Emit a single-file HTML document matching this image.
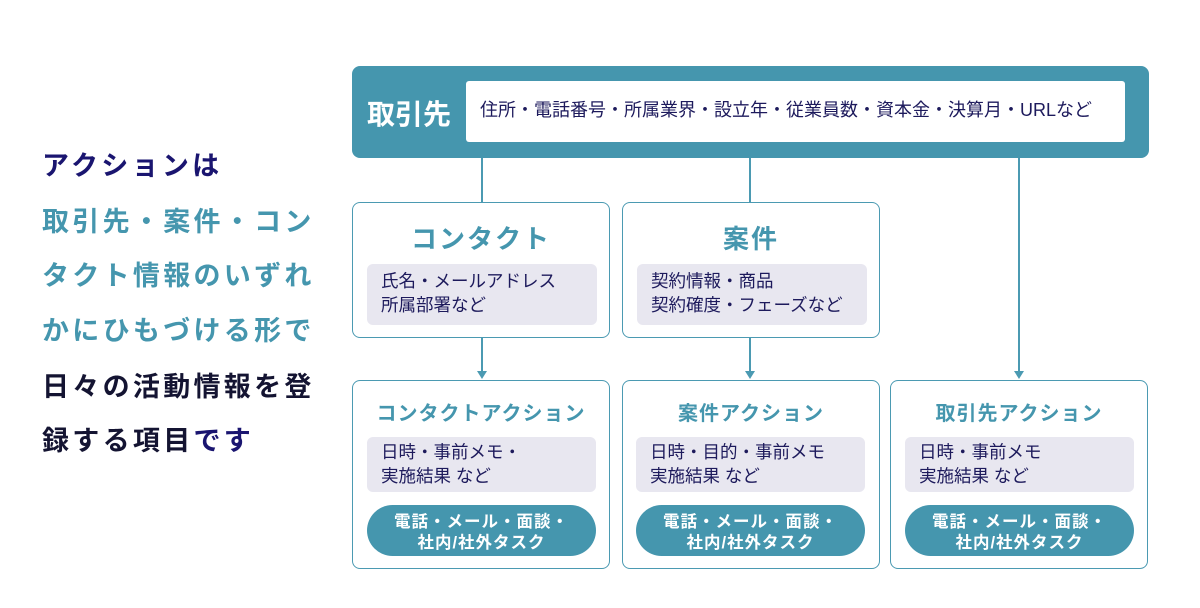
<!DOCTYPE html>
<html><head><meta charset="utf-8"><style>
*{margin:0;padding:0;box-sizing:border-box}
body{width:1200px;height:608px;background:#fff;position:relative;overflow:hidden;font-family:"Liberation Sans","Noto Sans CJK JP",sans-serif}
.a{position:absolute}
.lt{position:absolute;left:42px;font-size:27px;font-weight:bold;letter-spacing:3.3px;line-height:30px;white-space:nowrap}
.teal{color:#4596ae}
.box{position:absolute;border:1.5px solid #4b9ab2;border-radius:8px;background:#fff}
.gray{position:absolute;background:#e8e7f0;border-radius:6px;color:#1d1a5c;font-size:17.5px;line-height:24px;padding:5px 0 0 14px;white-space:nowrap}
.pill{position:absolute;background:#4596ae;border-radius:26px;color:#fff;font-weight:bold;font-size:16.5px;line-height:21px;text-align:center;padding-top:7px;letter-spacing:1px}
.t1{position:absolute;width:100%;text-align:center;color:#4596ae;font-weight:bold;font-size:26px;letter-spacing:2px}
.t2{position:absolute;width:100%;text-align:center;color:#4596ae;font-weight:bold;font-size:20px;letter-spacing:1px}
.ln{position:absolute;width:1.5px;background:#4b9ab2}
.ar{position:absolute;width:0;height:0;border-left:5px solid transparent;border-right:5px solid transparent;border-top:8px solid #4b9ab2}
</style></head><body>
<div class="lt" style="top:151px;color:#1a1570">アクションは</div>
<div class="lt teal" style="top:207px">取引先・案件・コン</div>
<div class="lt teal" style="top:261px">タクト情報のいずれ</div>
<div class="lt teal" style="top:316px">かにひもづける形で</div>
<div class="lt" style="top:372px;color:#141432">日々の活動情報を登</div>
<div class="lt" style="top:426px;color:#141432">録する項目<span style="color:#1a1570">です</span></div>

<div class="a" style="left:352px;top:66px;width:797px;height:92px;background:#4596ae;border-radius:8px"></div>
<div class="a" style="left:367px;top:93px;color:#fff;font-weight:bold;font-size:28px">取引先</div>
<div class="a" style="left:466px;top:81px;width:659px;height:61px;background:#fff;border-radius:3px;color:#1d1a5c;font-size:18px;line-height:58px;padding-left:14px;white-space:nowrap">住所・電話番号・所属業界・設立年・従業員数・資本金・決算月・URLなど</div>

<div class="ln" style="left:481px;top:158px;height:44px"></div>
<div class="ln" style="left:749px;top:158px;height:44px"></div>
<div class="ln" style="left:1018px;top:158px;height:214px"></div>
<div class="ar" style="left:1014px;top:371px"></div>

<div class="box" style="left:352px;top:202px;width:258px;height:136px">
 <div class="t1" style="top:16px">コンタクト</div>
</div>
<div class="gray" style="left:367px;top:264px;width:230px;height:61px">氏名・メールアドレス<br>所属部署など</div>
<div class="box" style="left:622px;top:202px;width:258px;height:136px">
 <div class="t1" style="top:16px">案件</div>
</div>
<div class="gray" style="left:637px;top:264px;width:230px;height:61px">契約情報・商品<br>契約確度・フェーズなど</div>

<div class="ln" style="left:481px;top:338px;height:34px"></div>
<div class="ar" style="left:477px;top:371px"></div>
<div class="ln" style="left:749px;top:338px;height:34px"></div>
<div class="ar" style="left:745px;top:371px"></div>

<div class="box" style="left:352px;top:380px;width:258px;height:189px"><div class="t2" style="top:16px">コンタクトアクション</div></div>
<div class="box" style="left:622px;top:380px;width:258px;height:189px"><div class="t2" style="top:16px">案件アクション</div></div>
<div class="box" style="left:890px;top:380px;width:258px;height:189px"><div class="t2" style="top:16px">取引先アクション</div></div>

<div class="gray" style="left:367px;top:437px;width:229px;height:55px;padding-top:3px">日時・事前メモ・<br>実施結果 など</div>
<div class="gray" style="left:636px;top:437px;width:229px;height:55px;padding-top:3px">日時・目的・事前メモ<br>実施結果 など</div>
<div class="gray" style="left:905px;top:437px;width:229px;height:55px;padding-top:3px">日時・事前メモ<br>実施結果 など</div>

<div class="pill" style="left:367px;top:505px;width:229px;height:51px">電話・メール・面談・<br>社内/社外タスク</div>
<div class="pill" style="left:636px;top:505px;width:229px;height:51px">電話・メール・面談・<br>社内/社外タスク</div>
<div class="pill" style="left:905px;top:505px;width:229px;height:51px">電話・メール・面談・<br>社内/社外タスク</div>
</body></html>
